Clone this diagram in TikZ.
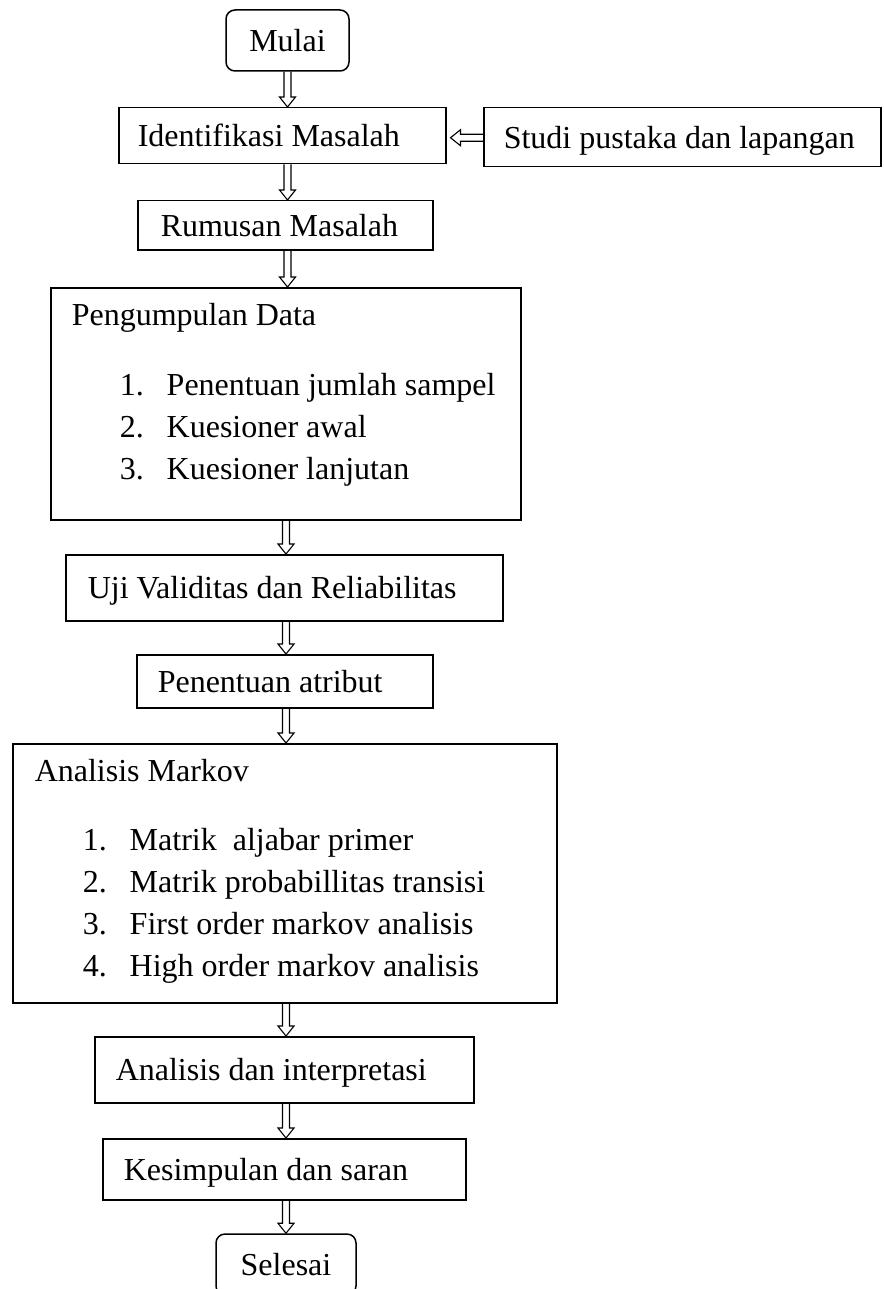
\documentclass[tikz,border=0pt]{standalone}
\usepackage{fontspec}
\setmainfont{Liberation Serif}
\usetikzlibrary{calc}
\def\hollowdown(#1)(#2){\draw[arrowline] ($(#1)+(-3.5,0)$) -- ($(#2)+(-3.5,-10)$) -- ($(#2)+(-8,-10)$) -- (#2) -- ($(#2)+(8,-10)$) -- ($(#2)+(3.5,-10)$) -- ($(#1)+(3.5,0)$);}
\def\hollowleft(#1)(#2){\draw[arrowline] ($(#1)+(0,-3.5)$) -- ($(#2)+(10,-3.5)$) -- ($(#2)+(10,-8)$) -- (#2) -- ($(#2)+(10,8)$) -- ($(#2)+(10,3.5)$) -- ($(#1)+(0,3.5)$);}
\newcommand{\listrow}[2]{\hspace*{48pt}\makebox[47pt][l]{#1}#2}

\begin{document}
\begin{tikzpicture}[x=1pt, y=-1pt,
		box/.style={draw, line width=1.5pt, anchor=north west, align=left, inner ysep=0pt,
			text height=22pt, text depth=0pt, font=\fontsize{32}{42}\selectfont,
			execute at begin node={\spaceskip=0pt\xspaceskip=0pt\hyphenpenalty=10000\relax}},
		endbox/.style={box, anchor=center, align=center, inner xsep=0pt, rounded corners=9pt},
		arrowline/.style={line width=1.1pt}]
		%%%%% START %%%%%
		
		\useasboundingbox (0,0) rectangle (883,1289);
		\clip (0,0) rectangle (883,1289);
		
		\node[endbox, minimum width=123pt, minimum height=61pt] (mulai) at (287.5, 40.5) {Mulai};
		
		\node[box, inner xsep=19pt, text width=289pt, minimum height=56pt] (ident) at (118, 107) {Identifikasi Masalah};
		\node[box, inner xsep=20pt, text width=357pt, minimum height=59pt] (studi) at (483, 107) {Studi pustaka dan lapangan};
		\node[box, inner xsep=23pt, text width=249pt, minimum height=49pt] (rumus) at (137, 200) {Rumusan Masalah};
		
		\node[box, inner xsep=21pt, text width=428pt, text height=38pt, text depth=194pt] (kumpul) at (50, 287)
		{Pengumpulan Data\\[28pt]
			\listrow{1.}{Penentuan jumlah sampel}\\
			\listrow{2.}{Kuesioner awal}\\
			\listrow{3.}{Kuesioner lanjutan}};
		
		\node[box, inner xsep=22pt, text width=393pt, minimum height=66pt] (uji) at (65, 554) {Uji Validitas dan Reliabilitas};
		\node[box, inner xsep=21pt, text width=254pt, minimum height=53pt] (atribut) at (136, 654) {Penentuan atribut};
		
		\node[box, inner xsep=22pt, text width=500pt, text height=38pt, text depth=221pt] (markov) at (12, 743)
		{Analisis Markov\\[27pt]
			\listrow{1.}{Matrik~ aljabar primer}\\
			\listrow{2.}{Matrik probabillitas transisi}\\
			\listrow{3.}{First order markov analisis}\\
			\listrow{4.}{High order markov analisis}};
		
		\node[box, inner xsep=21pt, text width=337pt, minimum height=66pt] (interp) at (94, 1036) {Analisis dan interpretasi};
		\node[box, inner xsep=21pt, text width=321pt, minimum height=61pt] (simpul) at (102, 1138) {Kesimpulan dan saran};
		
		\node[endbox, minimum width=140pt, minimum height=61pt] (selesai) at (286, 1264.5) {Selesai};
		
		%%%%% ARROWS %%%%%
		\coordinate (tipstudi) at ($(ident.east)+(4,2)$);
		\hollowleft(studi.west |- tipstudi)(tipstudi)
		
		\hollowdown(mulai.south)(ident.north -| mulai.south)
		\hollowdown(ident.south -| mulai.south)(rumus.north -| mulai.south)
		\hollowdown(rumus.south -| mulai.south)(kumpul.north -| mulai.south)
		\hollowdown(kumpul.south -| selesai.north)(uji.north -| selesai.north)
		\hollowdown(uji.south -| selesai.north)(atribut.north -| selesai.north)
		\hollowdown(atribut.south -| selesai.north)(markov.north -| selesai.north)
		\hollowdown(markov.south -| selesai.north)(interp.north -| selesai.north)
		\hollowdown(interp.south -| selesai.north)(simpul.north -| selesai.north)
		\hollowdown(simpul.south -| selesai.north)(selesai.north)
		
		%%%%% END %%%%%
	\end{tikzpicture}
\end{document}
